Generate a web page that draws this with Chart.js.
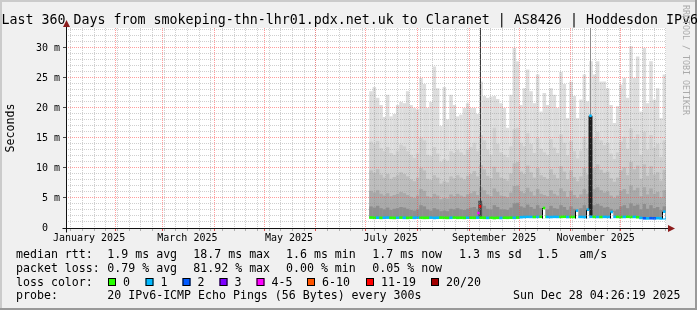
<!DOCTYPE html>
<html>
<head>
<meta charset="utf-8">
<script src="https://cdn.jsdelivr.net/npm/chart.js@4.4.1/dist/chart.umd.min.js"></script>
<style>
  html, body { margin: 0; padding: 0; background: #f0f0f0; }
  canvas { display: block; }
</style>
</head>
<body>
<canvas id="smoke" width="697" height="310"></canvas>
<script>
// x values are days after the graph start (Thu Jan 02 2025 04:26:19)
const binDays = [
  183,185,187,189,191,193,195,197,199,201,
  203,205,207,209,211,213,215,217,219,221,
  223,225,227,229,231,233,235,237,239,241,
  243,245,247,249,251,253,255,257,259,261,
  263,265,267,269,271,273,275,277,279,281,
  283,285,287,289,291,293,295,297,299,301,
  303,305,307,309,311,313,315,317,319,321,
  323,325,327,329,331,333,335,337,339,341,
  343,345,347,349,351,353,355,357,359
];

// median rtt per bin (ms)
const medianRtt = [
  1.74,1.70,1.72,1.69,1.71,1.74,1.70,1.68,1.71,1.73,
  1.70,1.69,1.72,1.70,1.74,1.71,1.69,1.70,1.73,1.68,
  1.71,1.73,1.70,1.69,1.71,1.74,1.70,1.71,1.69,1.72,
  1.71,1.70,1.73,1.72,1.70,1.69,1.71,1.66,1.70,1.68,
  1.71,1.70,1.72,1.70,1.74,1.80,1.84,1.86,1.85,1.83,
  1.85,1.87,1.85,1.84,1.83,1.86,1.85,1.85,1.87,1.83,
  1.85,1.84,1.86,1.85,1.83,1.85,1.87,1.85,1.84,1.83,
  1.86,1.85,1.84,1.86,1.85,1.83,1.85,1.87,1.84,1.85,
  1.80,1.68,1.62,1.60,1.63,1.61,1.64,1.60,1.63
];

// lost pings (of 20) per bin
const lostPings = [
  0,0,1,0,1,1,0,0,1,0,
  1,0,0,1,1,0,0,0,1,1,
  1,0,0,0,1,0,0,0,0,1,
  0,0,1,0,0,1,0,0,0,1,
  0,0,0,1,0,1,1,1,1,0,
  1,0,0,1,1,1,1,0,0,1,
  0,0,1,1,1,1,1,0,1,0,
  1,1,1,1,0,0,1,0,0,1,
  0,1,2,1,2,2,1,1,1
];

// smoke layer tops (ms), outermost (lightest) first
const smoke1 = [
  22.8,23.5,21.7,20.5,18.5,22.2,18.6,19.0,20.5,21.0,
  20.8,22.8,20.5,20.0,19.8,25.0,24.0,20.0,21.0,26.9,
  23.3,17.0,23.5,18.1,22.2,20.5,18.6,18.9,20.0,20.8,
  20.0,20.0,19.0,24.4,22.0,21.7,21.9,22.0,21.5,20.8,
  20.0,16.7,22.2,30.0,27.8,20.5,23.3,26.4,22.8,20.8,
  25.6,19.4,22.5,20.5,23.3,22.2,20.0,26.0,24.0,18.3,
  24.4,22.0,18.3,21.4,25.6,21.1,27.8,25.6,27.8,24.4,
  24.4,23.3,20.5,17.5,20.3,23.9,25.0,21.7,30.3,25.0,
  28.6,19.4,30.0,20.8,27.8,21.4,23.3,18.3,25.6
];
const smoke2 = [
  14.4,14.0,14.5,13.3,12.8,13.5,12.5,12.2,12.8,13.9,
  13.6,12.8,12.2,11.7,12.4,15.0,14.6,12.2,12.0,13.5,
  12.4,11.0,11.5,11.2,12.8,12.5,13.0,12.6,12.2,13.0,
  13.5,14.2,12.8,15.5,14.6,13.0,12.2,16.7,14.0,12.6,
  12.2,11.8,13.6,16.5,16.7,14.2,13.6,15.8,14.0,12.5,
  15.0,13.2,12.6,12.2,14.8,13.4,12.5,15.6,14.2,12.1,
  14.5,12.8,11.6,12.9,15.2,13.3,14.4,15.0,16.0,14.6,
  13.8,14.2,12.4,11.5,12.6,14.4,15.2,13.2,16.6,14.8,
  15.6,12.2,16.0,13.0,15.5,13.4,14.0,11.8,14.6
];
const smoke3 = [
  9.6,9.2,9.8,8.9,8.4,9.0,8.2,8.5,8.8,9.3,
  9.0,8.6,8.1,7.8,8.4,10.0,9.6,8.2,8.0,8.8,
  8.4,7.4,7.8,7.6,8.6,8.3,8.8,8.4,8.1,8.7,
  9.0,9.5,8.6,10.5,9.8,8.7,8.3,10.2,9.3,8.4,
  8.2,7.9,9.1,10.8,11.0,9.4,9.0,10.4,9.3,8.4,
  10.0,8.8,8.5,8.2,9.8,8.9,8.3,10.3,9.4,8.1,
  9.6,8.5,7.8,8.6,10.0,8.9,9.6,10.0,10.6,9.7,
  9.2,9.4,8.3,7.7,8.4,9.6,10.1,8.8,11.0,9.8,
  10.4,8.2,10.6,8.7,10.3,8.9,9.3,7.9,9.7
];
const smoke4 = [
  6.2,5.9,6.3,5.7,5.4,5.8,5.3,5.5,5.7,6.0,
  5.8,5.5,5.2,5.0,5.4,6.5,6.2,5.3,5.1,5.7,
  5.4,4.8,5.0,4.9,5.6,5.3,5.7,5.4,5.2,5.6,
  5.8,6.1,5.5,6.8,6.3,5.6,5.3,6.6,6.0,5.4,
  5.3,5.1,5.9,7.0,7.1,6.1,5.8,6.7,6.0,5.4,
  6.5,5.7,5.5,5.3,6.3,5.7,5.4,6.6,6.1,5.2,
  6.2,5.5,5.0,5.6,6.5,5.7,6.2,6.5,6.8,6.3,
  5.9,6.1,5.4,5.0,5.4,6.2,6.5,5.7,7.1,6.3,
  6.7,5.3,6.8,5.6,6.6,5.7,6.0,5.1,6.3
];
const smoke5 = [
  3.6,3.4,3.7,3.3,3.1,3.4,3.0,3.2,3.3,3.5,
  3.4,3.2,3.0,2.9,3.1,3.8,3.6,3.1,2.9,3.3,
  3.1,2.8,2.9,2.8,3.2,3.1,3.3,3.1,3.0,3.2,
  3.4,3.5,3.2,4.0,3.7,3.2,3.1,3.8,3.5,3.1,
  3.1,3.0,3.4,4.1,4.2,3.6,3.4,3.9,3.5,3.2,
  3.8,3.3,3.2,3.1,3.7,3.3,3.2,3.8,3.5,3.0,
  3.6,3.2,2.9,3.3,3.8,3.3,3.6,3.8,4.0,3.7,
  3.4,3.5,3.2,2.9,3.1,3.6,3.8,3.3,4.1,3.7,
  3.9,3.1,4.0,3.2,3.8,3.3,3.5,3.0,3.6
];

// single high outliers (thin lines up to the top)
const outlierDays = [248.7, 314.7];
const outlierLow = [1.8, 18.7];
const outlierHigh = [33.4, 33.4];

// high-loss / slow bins drawn as dark smoke
const burstDays = [248.5, 314.7];
const burstLow = [1.7, 1.9];
const burstHigh = [4.55, 18.7];

// median jumps
const jumpDays = [285.9, 305.7, 312.3, 326.7, 357.9];
const jumpRtt = [3.33, 2.9, 3.05, 2.67, 2.72];

// median marks at the jumps, coloured by loss
const markDays = [247.5, 248.4, 286.8, 306.6, 313.2, 314.7, 327.4, 359.0];
const markRtt = [2.5, 3.6, 3.33, 2.9, 3.05, 18.7, 2.67, 2.72];
const markLost = [4, 15, 0, 1, 1, 1, 1, 1];

const lossLabels = ['0', '1', '2', '3', '4-5', '6-10', '11-19', '20/20'];
const lossPalette = ['#26ff00', '#00b8ff', '#0059ff', '#7e00ff', '#ff00ff', '#ff5500', '#ff0000', '#a10000'];

function lossColor(n) {
  if (n <= 3) return lossPalette[n];
  if (n <= 5) return lossPalette[4];
  if (n <= 10) return lossPalette[5];
  if (n <= 19) return lossPalette[6];
  return lossPalette[7];
}

const MONO = '"DejaVu Sans Mono", monospace';
const start = Date.UTC(2025, 0, 2, 4, 26, 19);
const dayOf = (y, m, d) => (Date.UTC(y, m, d) - start) / 864e5;
const monthNames = ['January','February','March','April','May','June','July','August','September','October','November','December'];

const xTicks = [];
for (let d = 5; dayOf(2025, 0, d) < 360; d += 7) xTicks.push({ value: dayOf(2025, 0, d), kind: 'minor' });
for (let m = 1; m < 12; m++) xTicks.push({ value: dayOf(2025, m, 1), kind: 'major' });
for (let m = 0; m < 12; m += 2) xTicks.push({ value: dayOf(2025, m, 16), kind: 'label', text: monthNames[m] + ' 2025' });

const yTicks = [{ value: 0, kind: 'zero', text: '0  ' }];
for (let v = 1; v <= 33; v++) {
  yTicks.push(v % 5 ? { value: v, kind: 'minor' } : { value: v, kind: 'major', text: v + ' m' });
}

const GRID_MINOR = 'rgba(140,140,140,0.42)';
const GRID_MAJOR = 'rgba(255,60,60,0.5)';
const NONE = 'rgba(0,0,0,0)';

function gridColor(ctx) {
  const k = ctx.tick && ctx.tick.kind;
  if (k === 'major') return GRID_MAJOR;
  if (k === 'minor') return GRID_MINOR;
  return NONE;
}

function range(days, lo, hi) {
  return days.map((d, i) => ({ x: d, y: [lo[i], hi[i]] }));
}
const smokeFloor = medianRtt.map(v => v - 0.1);

function smokeLayer(top, color, order) {
  return {
    data: range(binDays, smokeFloor, top),
    backgroundColor: color, order: order,
    barThickness: 3.5, grouped: false, inflateAmount: 0, borderWidth: 0
  };
}

const datasets = [
  smokeLayer(smoke1, '#dddddd', 20),
  smokeLayer(smoke2, '#cfcfcf', 19),
  smokeLayer(smoke3, '#bdbdbd', 18),
  smokeLayer(smoke4, '#a9a9a9', 17),
  smokeLayer(smoke5, '#8e8e8e', 16),
  {
    data: range(burstDays, burstLow, burstHigh),
    backgroundColor: ['#555555', '#1e1e1e'],
    order: 12, barThickness: 4, grouped: false, inflateAmount: 0
  },
  {
    data: range(outlierDays, outlierLow, outlierHigh),
    backgroundColor: ['#3c3c3c', '#8c8c8c'],
    order: 11, barThickness: 1, grouped: false, inflateAmount: 0
  },
  {
    data: binDays.map((d, i) => ({ x: d, y: [medianRtt[i] - 0.22, medianRtt[i] + 0.22] })),
    backgroundColor: lostPings.map(lossColor),
    order: 8, barThickness: 3.5, grouped: false, inflateAmount: 0
  },
  {
    data: jumpDays.map((d, i) => ({ x: d + 0.9, y: [1.6, jumpRtt[i]] })),
    backgroundColor: '#ffffff',
    order: 6, barThickness: 2.5, grouped: false, inflateAmount: 0
  },
  {
    data: jumpDays.map((d, i) => ({ x: d, y: [1.6, jumpRtt[i]] })),
    backgroundColor: '#000000',
    order: 5, barThickness: 1, grouped: false, inflateAmount: 0
  },
  {
    data: markDays.map((d, i) => ({ x: d, y: [markRtt[i] - 0.22, markRtt[i] + 0.22] })),
    backgroundColor: markLost.map(lossColor),
    order: 1, barThickness: 2.5, grouped: false, inflateAmount: 0
  }
];

const rrdFrame = {
  id: 'rrdFrame',
  beforeDraw(chart) {
    const c = chart.ctx, a = chart.chartArea;
    c.save();
    c.fillStyle = '#f0f0f0';
    c.fillRect(0, 0, 697, 310);
    c.fillStyle = '#cbcbcb';
    c.fillRect(0, 0, 697, 2);
    c.fillRect(0, 0, 2, 310);
    c.fillStyle = '#999999';
    c.fillRect(0, 308, 697, 2);
    c.fillRect(695, 0, 2, 310);
    c.fillStyle = '#ffffff';
    c.fillRect(a.left, a.top, a.right - a.left, a.bottom - a.top);
    c.restore();
  },
  afterDraw(chart) {
    const c = chart.ctx;
    const xs = chart.scales.x, ys = chart.scales.y;
    const x0 = Math.round(xs.getPixelForValue(0) - 0.5) + 0.5;
    const y0 = Math.round(ys.getPixelForValue(0) - 0.5) + 0.5;
    const x1 = xs.getPixelForValue(360);
    const y1 = ys.getPixelForValue(33.333);
    c.save();
    // axes
    c.strokeStyle = '#111111';
    c.lineWidth = 1;
    c.beginPath();
    c.moveTo(x0 - 4, y0); c.lineTo(x1 + 3, y0);
    c.moveTo(x0, y0 + 4); c.lineTo(x0, y1 - 3);
    c.stroke();
    c.fillStyle = '#8c1c1c';
    c.beginPath();
    c.moveTo(x1 + 2, y0 - 3.5); c.lineTo(x1 + 9, y0); c.lineTo(x1 + 2, y0 + 3.5);
    c.closePath(); c.fill();
    c.beginPath();
    c.moveTo(x0 - 3.5, y1 - 1); c.lineTo(x0, y1 - 8); c.lineTo(x0 + 3.5, y1 - 1);
    c.closePath(); c.fill();

    // title
    c.fillStyle = '#000000';
    c.textBaseline = 'alphabetic';
    c.textAlign = 'left';
    c.font = '13.3px ' + MONO;
    c.fillText('Last 360 Days from smokeping-thn-lhr01.pdx.net.uk to Claranet | AS8426 | Hoddesdon IPv6', 1.5, 24);

    // legend block
    c.font = '11.6px ' + MONO;
    const row1 = [['median rtt:', 16], ['1.9 ms avg', 107.3], ['18.7 ms max', 193.3], ['1.6 ms min', 286],
                  ['1.7 ms now', 372.3], ['1.3 ms sd', 459], ['1.5', 537.3], ['am/s', 579.3]];
    const row2 = [['packet loss:', 16], ['0.79 % avg', 107.3], ['81.92 % max', 193.3], ['0.00 % min', 286],
                  ['0.05 % now', 372.3]];
    row1.forEach(([t, x]) => c.fillText(t, x, 258));
    row2.forEach(([t, x]) => c.fillText(t, x, 272));
    c.fillText('loss color:', 16, 286);
    const boxX = [108, 145.5, 182.5, 219.5, 256.5, 307, 366, 431];
    lossLabels.forEach((t, i) => {
      c.fillStyle = lossPalette[i];
      c.fillRect(boxX[i], 278, 8, 8);
      c.strokeStyle = '#000000';
      c.strokeRect(boxX[i] + 0.5, 278.5, 7, 7);
      c.fillStyle = '#000000';
      c.fillText(t, boxX[i] + 15, 286);
    });
    c.fillText('probe:', 16, 299);
    c.fillText('20 IPv6-ICMP Echo Pings (56 Bytes) every 300s', 107.3, 299);
    c.fillText('Sun Dec 28 04:26:19 2025', 513, 299);

    // watermark
    c.fillStyle = '#aaaaaa';
    c.font = '8.3px ' + MONO;
    c.translate(683, 5);
    c.rotate(Math.PI / 2);
    c.fillText('RRDTOOL / TOBI OETIKER', 0, 0);
    c.restore();
  }
};

new Chart(document.getElementById('smoke'), {
  type: 'bar',
  data: { datasets: datasets },
  options: {
    responsive: false,
    animation: false,
    devicePixelRatio: 1,
    layout: { padding: { left: 0, top: 28, right: 31, bottom: 0 } },
    plugins: { legend: { display: false }, tooltip: { enabled: false }, title: { display: false } },
    scales: {
      x: {
        type: 'linear', min: 0, max: 360, offset: false,
        afterBuildTicks(scale) { scale.ticks = xTicks.map(t => Object.assign({}, t)); },
        afterFit(scale) { scale.height = 82; },
        ticks: {
          autoSkip: false, maxRotation: 0, minRotation: 0, padding: 1,
          color: '#000000', font: { family: MONO, size: 10 },
          callback: (v, i, t) => t[i].text || ''
        },
        grid: {
          offset: false, z: 1, lineWidth: 1, color: gridColor, tickLength: 3,
          tickColor: (ctx) => {
            const k = ctx.tick && ctx.tick.kind;
            return k === 'major' ? '#e05050' : k === 'minor' ? '#b0b0b0' : NONE;
          }
        },
        border: { display: false, dash: [1, 1] }
      },
      y: {
        type: 'linear', min: 0, max: 33.333,
        afterBuildTicks(scale) { scale.ticks = yTicks.map(t => Object.assign({}, t)); },
        afterFit(scale) { scale.width = 66; },
        ticks: {
          autoSkip: false, padding: 3,
          color: '#000000', font: { family: MONO, size: 10 },
          callback: (v, i, t) => t[i].text || ''
        },
        grid: {
          offset: false, z: 1, lineWidth: 1, color: gridColor, tickLength: 3,
          tickColor: (ctx) => (ctx.tick && ctx.tick.kind === 'major') ? '#444444' : NONE
        },
        border: { display: false, dash: [1, 1] },
        title: {
          display: true, text: 'Seconds', color: '#000000',
          font: { family: MONO, size: 11.6 }, padding: { top: 4, bottom: 0 }
        }
      }
    }
  },
  plugins: [rrdFrame]
});
</script>
</body>
</html>
